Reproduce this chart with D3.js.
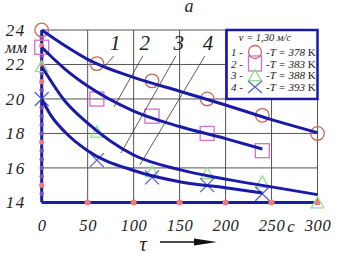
<!DOCTYPE html>
<html>
<head>
<meta charset="utf-8">
<script src="https://cdn.jsdelivr.net/npm/d3@7"></script>
<style>
  body { margin: 0; background: #fff; }
  svg { display: block; }
  text { font-family: "Liberation Serif", "DejaVu Serif", serif; font-style: italic; fill: #222; }
</style>
</head>
<body>
<svg id="chart" width="338" height="254"></svg>
<script>
// tick values
const xTicks = [0, 50, 100, 150, 200, 250, 300];
const yTicks = [14, 16, 18, 20, 22, 24];

// fitted curves
const curve1X = [0, 25, 50, 100, 150, 200, 250, 300];
const curve1Y = [24, 23.1, 22.3, 21.25, 20.45, 19.65, 18.8, 18.05];
const curve2X = [0, 25, 50, 100, 150, 200, 240];
const curve2Y = [23, 21.75, 20.75, 19.3, 18.4, 17.7, 17.1];
const curve3X = [0, 25, 50, 100, 150, 200, 250, 300];
const curve3Y = [21.9, 19.9, 18.6, 16.75, 15.9, 15.35, 14.9, 14.45];
const curve4X = [0, 10, 25, 50, 100, 150, 200, 240];
const curve4Y = [20, 19.05, 18.1, 17.0, 15.85, 15.2, 14.85, 14.55];

// measured points
const circleX = [0, 60, 120, 180, 240, 300];
const circleY = [24, 22.05, 21.05, 20.0, 19.05, 18.0];
const squareX = [0, 60, 120, 180, 240];
const squareY = [23, 20.0, 19.0, 18.0, 17.0];
const triX = [0, 60, 120, 180, 240, 300];
const triY = [21.8, 18.0, 15.7, 15.6, 15.1, 13.9];
const crossX = [0, 60, 120, 180, 240];
const crossY = [20, 16.45, 15.45, 15.0, 14.5];

// dots on the left axis
const pinkDotsY = [23.1, 22, 21, 17.5, 15];
const minorDotsY = [14.5, 15.5, 16, 16.5, 17, 18, 18.5, 19, 19.5, 20.5, 21.5, 22.5, 23.5];

// legend
const legendTitle = "v = 1,30 м/с";
const legendNums = ["1 -", "2 -", "3 -", "4 -"];
const legendTemps = ["378", "383", "388", "393"];

// curve labels and leader lines (data units)
const labelText = ["1", "2", "3", "4"];
const labelX = [80, 112, 149, 181];
const labelY = [22.85, 22.85, 22.85, 22.85];
const leaderFrom = [[78.6, 22.5], [110, 22.5], [146, 22.5], [177.5, 22.5]];
const leaderTo = [[67.7, 21.85], [78.6, 19.53], [86.2, 16.86], [106.8, 16.17]];

const blue = "#1a1aa8";
const svg = d3.select("#chart");

const x = d3.scaleLinear().domain([0, 300]).range([41.7, 317.5]);
const y = d3.scaleLinear().domain([14, 24]).range([202.4, 30]);

// grid
svg.append("g").selectAll("line").data(xTicks.slice(1)).join("line")
    .attr("x1", d => x(d)).attr("x2", d => x(d))
    .attr("y1", y(14)).attr("y2", y(24))
    .attr("stroke", "#555").attr("stroke-width", 1);
svg.append("g").selectAll("line").data(yTicks.slice(1)).join("line")
    .attr("x1", x(0)).attr("x2", x(300))
    .attr("y1", d => y(d)).attr("y2", d => y(d))
    .attr("stroke", "#555").attr("stroke-width", 1);

// legend box (covers the top right cell)
const lg = svg.append("g");
lg.append("rect")
    .attr("x", x(200) + 1).attr("y", y(24))
    .attr("width", x(300) - x(200) - 1).attr("height", y(20) - y(24))
    .attr("fill", "#fff").attr("stroke", blue).attr("stroke-width", 2.5);
lg.append("text").attr("x", 265).attr("y", 41)
    .attr("text-anchor", "middle").attr("font-size", 10.5).text(legendTitle);
const rowY = [56, 67.5, 79, 90.5];
legendNums.forEach((t, i) => {
    lg.append("text").attr("x", 231).attr("y", rowY[i]).attr("font-size", 11).text(t);
    const tt = lg.append("text").attr("x", 266).attr("y", rowY[i]).attr("font-size", 11);
    tt.append("tspan").text("-T = " + legendTemps[i] + " ");
    tt.append("tspan").attr("font-style", "normal").text("K");
});

// axes lines
svg.append("line").attr("x1", x(0)).attr("x2", x(300)).attr("y1", y(14)).attr("y2", y(14))
    .attr("stroke", blue).attr("stroke-width", 3);
svg.append("line").attr("x1", x(0)).attr("x2", x(0)).attr("y1", y(14)).attr("y2", y(24))
    .attr("stroke", blue).attr("stroke-width", 3);

svg.append("g").selectAll("circle").data(minorDotsY).join("circle")
    .attr("cx", x(0)).attr("cy", d => y(d)).attr("r", 2.2).attr("fill", "#7a4fc0");
svg.append("g").selectAll("circle").data(pinkDotsY).join("circle")
    .attr("cx", x(0)).attr("cy", d => y(d)).attr("r", 2.6).attr("fill", "#f07a80");
svg.append("g").selectAll("circle").data(xTicks.slice(1)).join("circle")
    .attr("cx", d => x(d)).attr("cy", y(14)).attr("r", 3).attr("fill", "#f07a80");

// tick labels via axes
const xAxis = svg.append("g").attr("transform", `translate(0,${y(14)})`)
    .call(d3.axisBottom(x).tickValues(xTicks).tickSize(0).tickPadding(17));
xAxis.select(".domain").remove();
xAxis.selectAll("text").attr("font-size", 16.5).attr("letter-spacing", 0.6).attr("fill", "#222");

const yAxis = svg.append("g").attr("transform", `translate(${x(0)},0)`)
    .call(d3.axisLeft(y).tickValues(yTicks).tickSize(0).tickPadding(16));
yAxis.select(".domain").remove();
yAxis.selectAll("text").attr("font-size", 17).attr("letter-spacing", 1.5).attr("fill", "#222");

svg.append("text").attr("x", 27).attr("y", y(23) + 6).attr("text-anchor", "end")
    .attr("font-size", 17).text("мм");
svg.append("text").attr("x", 291).attr("y", 232).attr("text-anchor", "middle")
    .attr("font-size", 17).text("с");
svg.append("text").attr("x", 143).attr("y", 251).attr("text-anchor", "middle")
    .attr("font-size", 20).text("τ");
svg.append("text").attr("x", 189).attr("y", 12).attr("text-anchor", "middle")
    .attr("font-size", 18).text("а");

// arrow under the x axis
svg.append("line").attr("x1", 160).attr("x2", 200).attr("y1", 242).attr("y2", 242)
    .attr("stroke", "#111").attr("stroke-width", 1.3);
svg.append("path").attr("d", "M194,238.5 L217,242 L194,245.5 Z").attr("fill", "#111");

// markers
const circleC = "#c9685e", squareC = "#d46ed4", triC = "#8fe08f", crossC = "#5560d0";
const mk = svg.append("g").attr("fill", "none").attr("stroke-width", 1.3);
mk.selectAll(".c").data(circleX).join("circle").attr("class", "c")
    .attr("cx", d => x(d)).attr("cy", (d, i) => y(circleY[i])).attr("r", 6.8).attr("stroke", circleC);
mk.selectAll(".s").data(squareX).join("rect").attr("class", "s")
    .attr("x", d => x(d) - 7).attr("y", (d, i) => y(squareY[i]) - 7)
    .attr("width", 14).attr("height", 14).attr("stroke", squareC);
const triPath = d3.symbol(d3.symbolTriangle, 70);
mk.selectAll(".t").data(triX).join("path").attr("class", "t")
    .attr("d", triPath).attr("transform", (d, i) => `translate(${x(d)},${y(triY[i])})`)
    .attr("stroke", triC);
mk.selectAll(".x").data(crossX).join("path").attr("class", "x")
    .attr("d", "M-7,-7L7,7M-7,7L7,-7")
    .attr("transform", (d, i) => `translate(${x(d)},${y(crossY[i])})`)
    .attr("stroke", crossC);

// legend markers
lg.append("rect").attr("x", 248.5).attr("y", 56).attr("width", 13).attr("height", 15)
    .attr("fill", "none").attr("stroke", squareC).attr("stroke-width", 1.3);
lg.append("circle").attr("cx", 255).attr("cy", 52).attr("r", 6.5)
    .attr("fill", "none").attr("stroke", circleC).attr("stroke-width", 1.3);
lg.append("path").attr("d", triPath).attr("transform", "translate(255,77)")
    .attr("fill", "none").attr("stroke", triC).attr("stroke-width", 1.3);
lg.append("path").attr("d", "M-7,-6L7,6M-7,6L7,-6").attr("transform", "translate(255,87)")
    .attr("fill", "none").attr("stroke", crossC).attr("stroke-width", 1.3);

// curves
const line = d3.line().x(d => x(d[0])).y(d => y(d[1])).curve(d3.curveMonotoneX);
[[curve1X, curve1Y], [curve2X, curve2Y], [curve3X, curve3Y], [curve4X, curve4Y]].forEach(([cx, cy]) => {
    svg.append("path").datum(cx.map((v, i) => [v, cy[i]]))
        .attr("d", line).attr("fill", "none")
        .attr("stroke", blue).attr("stroke-width", 3);
});

// curve labels and leaders
leaderFrom.forEach((p, i) => {
    svg.append("line")
        .attr("x1", x(p[0])).attr("y1", y(p[1]))
        .attr("x2", x(leaderTo[i][0])).attr("y2", y(leaderTo[i][1]))
        .attr("stroke", "#333").attr("stroke-width", 0.8);
    svg.append("text").attr("x", x(labelX[i])).attr("y", y(labelY[i]))
        .attr("text-anchor", "middle").attr("font-size", 21).text(labelText[i]);
});
</script>
</body>
</html>
